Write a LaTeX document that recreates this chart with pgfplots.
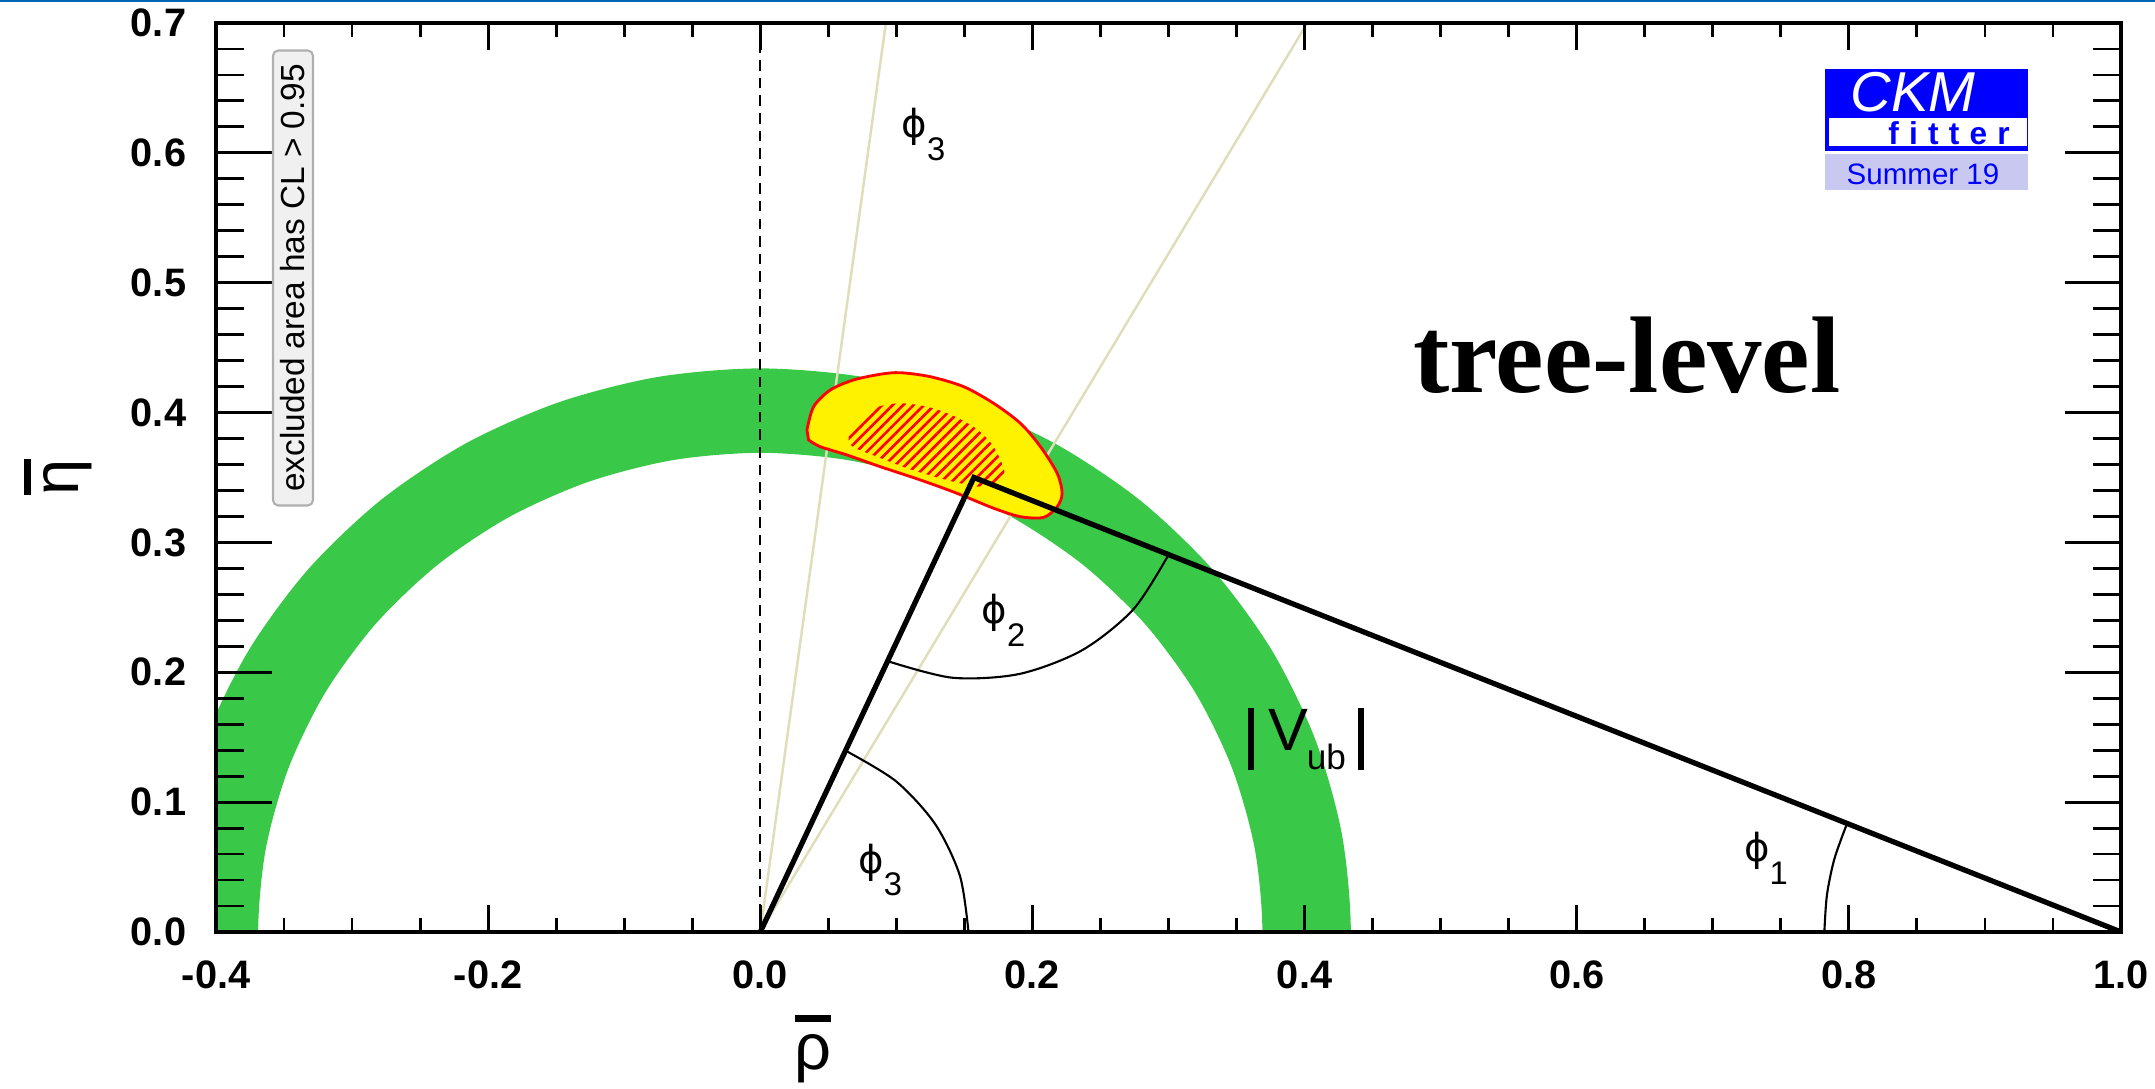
\documentclass[border=0pt]{standalone}
\usepackage{fontspec}
\setmainfont{Liberation Sans}
\newfontfamily\timesfont{Liberation Serif}
\newfontfamily\dejavu{DejaVu Sans}
\usepackage{pgfplots}
\pgfplotsset{compat=1.18}
\usetikzlibrary{patterns.meta}
\pgfplotsset{/pgf/number format/fixed, /pgf/number format/fixed zerofill, /pgf/number format/precision=1, /pgf/number format/assume math mode=true}

\definecolor{ringgreen}{RGB}{57,200,72}
\definecolor{khaki}{RGB}{222,222,186}
\definecolor{topblue}{RGB}{0,102,179}
\definecolor{logoblue}{RGB}{0,0,255}
\definecolor{lavender}{RGB}{200,200,240}
\definecolor{boxgray}{RGB}{240,240,240}
\definecolor{boxborder}{RGB}{175,175,175}

\newcommand\phisub[1]{{\dejavu\fontsize{11}{13}\selectfont ϕ}\raisebox{-6.5pt}{\fontsize{9.3}{11}\selectfont #1}}
\newcommand\obar[1]{\vbox{\hrule height 1.9pt\kern 3.4pt\hbox{#1}}}

\begin{document}
\begin{tikzpicture}
\useasboundingbox (0,0) rectangle (21.55,10.89);
\fill[topblue] (0,10.865) rectangle (21.55,10.89);
\begin{axis}[at={(2.16cm,1.57cm)}, anchor=south west, scale only axis,
  width=19.05cm, height=9.09cm,
  xmin=-0.4, xmax=1.0, ymin=0, ymax=0.7,
  axis on top,
  xtick={-0.4,-0.2,0,0.2,0.4,0.6,0.8,1.0}, minor x tick num=3,
  ytick=\empty,
  tick align=inside, xtick pos=both, xticklabel pos=lower,
  major tick length=7.7pt, minor tick length=3.85pt,
  every tick/.style={black, line width=0.8pt},
  axis line style={line width=1.1pt},
  ticklabel style={font=\fontsize{11.3}{13}\selectfont\bfseries},
  xticklabel style={inner sep=0pt, yshift=-8pt},
]
% |Vub| ring
\addplot[draw=none, fill=ringgreen, smooth] coordinates {
(0.4274,-0.0754) (0.434,0) (0.4274,0.0754) (0.4078,0.1484) (0.3759,0.217) (0.3325,0.279) (0.279,0.3325) (0.217,0.3759) (0.1484,0.4078) (0.0754,0.4274) (0,0.434) (-0.0754,0.4274) (-0.1484,0.4078) (-0.217,0.3759) (-0.279,0.3325) (-0.3325,0.279) (-0.3759,0.217) (-0.4078,0.1484) (-0.4274,0.0754) (-0.434,0) (-0.4274,-0.0754)
(-0.3634,-0.0641) (-0.369,0) (-0.3634,0.0641) (-0.3467,0.1262) (-0.3196,0.1845) (-0.2827,0.2372) (-0.2372,0.2827) (-0.1845,0.3196) (-0.1262,0.3467) (-0.0641,0.3634) (0,0.369) (0.0641,0.3634) (0.1262,0.3467) (0.1845,0.3196) (0.2372,0.2827) (0.2827,0.2372) (0.3196,0.1845) (0.3467,0.1262) (0.3634,0.0641) (0.369,0) (0.3634,-0.0641)
} -- cycle;
% phi3 constraint rays
\addplot[khaki, line width=0.7pt] coordinates {(0,0) (0.0923,0.7)};
\addplot[khaki, line width=0.7pt] coordinates {(0,0) (0.402,0.7)};
% combined fit region
\addplot[fill=yellow, draw=red, line width=0.8pt, smooth] coordinates {
(0.0343,0.3866) (0.0392,0.4045) (0.0515,0.4174) (0.0686,0.4251) (0.0882,0.4295) (0.1029,0.4307) (0.125,0.4276) (0.1495,0.4199) (0.1715,0.4071) (0.1912,0.3917) (0.2059,0.3737) (0.2182,0.3532) (0.2218,0.3378) (0.2182,0.3275) (0.2083,0.3193) (0.1912,0.3198) (0.1715,0.3263) (0.1446,0.3378) (0.1176,0.3481) (0.0882,0.3583) (0.0638,0.3673) (0.0441,0.3737) (0.0355,0.3789)
} -- cycle;
\addplot[draw=none, pattern={Lines[angle=45,distance=2.1pt,line width=0.75pt]}, pattern color=red, smooth] coordinates {
(0.0649,0.3860) (0.0821,0.4025) (0.1017,0.4071) (0.1226,0.4045) (0.1421,0.3974) (0.1593,0.3871) (0.1715,0.3737) (0.1794,0.3545) (0.1740,0.3468) (0.1618,0.3429) (0.1471,0.3455) (0.1299,0.3501) (0.1079,0.3571) (0.0858,0.3660) (0.0699,0.3725) (0.0649,0.3768)
} -- cycle;
% dashed line rho=0
\addplot[black, line width=0.45pt, dash pattern=on 3pt off 2pt] coordinates {(0,0) (0,0.7)};
% unitarity triangle
\addplot[black, line width=1.5pt, line join=miter] coordinates {(0,0) (0.157,0.350) (1,0)};
% angle arcs
\addplot[black, line width=0.6pt, smooth] coordinates {(0.153,0) (0.1467,0.0433) (0.1285,0.0831) (0.0997,0.1161) (0.0627,0.1396)};
\addplot[black, line width=0.6pt, smooth] coordinates {(0.0935,0.2086) (0.1411,0.1958) (0.1904,0.1987) (0.2364,0.2169) (0.2742,0.2485) (0.3001,0.2906)};
\addplot[black, line width=0.6pt, smooth] coordinates {(0.782,0) (0.7839,0.0285) (0.7894,0.0564) (0.7987,0.0836)};
% labels
\node at (axis cs:0.1199,0.614) {\phisub{3}};
\node at (axis cs:0.1787,0.2403) {\phisub{2}};
\node at (axis cs:0.0882,0.0477) {\phisub{3}};
\node at (axis cs:0.739,0.057) {\phisub{1}};
\node[anchor=base] at (axis cs:0.401,0.1394) {\fontsize{17}{20}\selectfont\rule[-5.3pt]{1.8pt}{17.6pt}\hspace{4pt}V\hspace{-0.3pt}\raisebox{-5.3pt}{\fontsize{10}{12}\selectfont ub}\hspace{3.4pt}\rule[-5.3pt]{1.8pt}{17.6pt}};
\node[anchor=base] at (axis cs:0.6368,0.4158) {\timesfont\bfseries\fontsize{31}{36}\selectfont tree-level};
\end{axis}
\begin{axis}[at={(2.16cm,1.57cm)}, anchor=south west, scale only axis,
  width=19.05cm, height=9.09cm,
  xmin=-0.4, xmax=1.0, ymin=0, ymax=0.7,
  axis on top,
  xtick=\empty,
  ytick={0,0.1,0.2,0.3,0.4,0.5,0.6,0.7}, minor y tick num=4,
  tick align=inside, ytick pos=both, yticklabel pos=left,
  major tick length=15.9pt, minor tick length=8pt,
  every tick/.style={black, line width=0.8pt},
  axis line style={line width=1.1pt},
  ticklabel style={font=\fontsize{11.3}{13}\selectfont\bfseries},
  yticklabel style={inner sep=0pt, xshift=-8.3pt},
]
\end{axis}
% axis labels
\node at (8.13,0.40) {\fontsize{18.5}{22}\selectfont\obar{ρ}};
\node[rotate=90] at (0.58,6.12) {\fontsize{18.5}{22}\selectfont\obar{η}};
% excluded area note
\node[rotate=90, draw=boxborder, fill=boxgray, line width=0.6pt, rounded corners=1.5pt, minimum width=4.55cm, minimum height=0.40cm, inner sep=0pt] at (2.93,8.11) {\fontsize{9.5}{11}\selectfont excluded area has CL > 0.95};
% CKMfitter logo
\fill[logoblue] (18.25,9.38) rectangle (20.28,10.20);
\fill[white] (18.29,9.43) rectangle (20.27,9.71);
\fill[lavender] (18.25,8.99) rectangle (20.28,9.35);
\node[white] at (19.13,9.97) {\itshape\fontsize{16}{19}\selectfont CKM};
\node[logoblue, anchor=base] at (19.49,9.44) {\bfseries\fontsize{9}{11}\selectfont f\kern2.9pt i\kern2.9pt t\kern2.9pt t\kern2.9pt e\kern2.9pt r};
\node[logoblue, anchor=base] at (19.23,9.04) {\fontsize{8.4}{10}\selectfont Summer 19};
\end{tikzpicture}
\end{document}
